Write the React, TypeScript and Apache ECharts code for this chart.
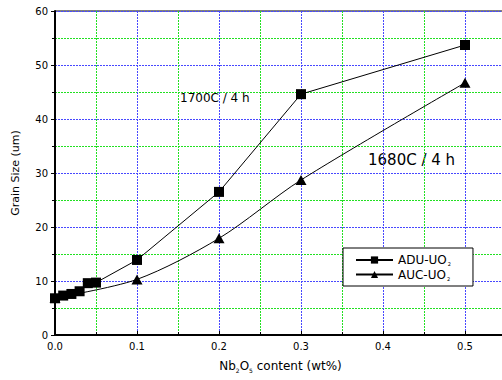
import React, { useEffect, useRef } from "react";
import * as echarts from "echarts";

const aduX = [0, 0.01, 0.02, 0.03, 0.04, 0.05, 0.1, 0.2, 0.3, 0.5];
const aduY = [6.8, 7.3, 7.6, 8.1, 9.6, 9.7, 13.9, 26.5, 44.6, 53.7];
const aucX = [0, 0.1, 0.2, 0.3, 0.5];
const aucY = [6.9, 10.3, 17.9, 28.7, 46.7];
const seriesNames = ["ADU-UO{s|2}", "AUC-UO{s|2}"];
const legendNames = ["ADU-UO2", "AUC-UO2"];

const FONT = "DejaVu Sans";
const BLUE = "#4848ff";
const GREEN = "#22e022";

export default function App() {
  const ref = useRef<HTMLDivElement>(null);
  useEffect(() => {
    if (!ref.current) return;
    const chart = echarts.init(ref.current, null, { renderer: "svg" });
    const pair = (xs: number[], ys: number[]) => xs.map((x, i) => [x, ys[i]]);
    const dotted = (c: string) => ({ show: true, lineStyle: { color: c, type: [2, 1], width: 1 } });
    chart.setOption({
      animation: false,
      backgroundColor: "#fff",
      grid: [
        {
          left: 55,
          top: 11,
          width: 451,
          height: 324,
          show: true,
          borderColor: "#000",
          borderWidth: 1,
          containLabel: false,
          outerBoundsMode: "none",
        },
      ],
      xAxis: {
        type: "value",
        min: 0,
        max: 0.55,
        interval: 0.1,
        name: "Nb{s|2}O{s|5} content (wt%)",
        nameLocation: "middle",
        nameGap: 24,
        nameTextStyle: {
          fontFamily: FONT,
          fontSize: 12,
          color: "#000",
          rich: { s: { fontSize: 6, verticalAlign: "bottom", padding: [8, 0, 0, 0], fontFamily: FONT } },
        },
        axisLine: { show: true, lineStyle: { color: "#000", width: 2 } },
        axisTick: { show: true, inside: true, length: 4, lineStyle: { color: "#000" } },
        minorTick: { show: true, splitNumber: 2, length: 3, lineStyle: { color: "#000" } },
        axisLabel: {
          fontFamily: FONT,
          fontSize: 10,
          color: "#000",
          margin: 6,
          showMaxLabel: false,
          formatter: (v: number) => v.toFixed(1),
        },
        splitLine: dotted(BLUE),
        minorSplitLine: dotted(GREEN),
      },
      yAxis: {
        type: "value",
        min: 0,
        max: 60,
        interval: 10,
        name: "Grain Size (um)",
        nameLocation: "middle",
        nameGap: 34,
        nameTextStyle: { fontFamily: FONT, fontSize: 11, color: "#000" },
        axisLine: { show: true, lineStyle: { color: "#000", width: 2 } },
        axisTick: { show: true, inside: false, length: 4, lineStyle: { color: "#000" } },
        minorTick: { show: true, splitNumber: 2, length: 3, lineStyle: { color: "#000" } },
        axisLabel: { fontFamily: FONT, fontSize: 10, color: "#000", margin: 7 },
        splitLine: dotted(BLUE),
        minorSplitLine: dotted(GREEN),
      },
      legend: {
        left: 343,
        top: 248,
        orient: "vertical",
        backgroundColor: "#fff",
        borderColor: "#000",
        borderWidth: 1,
        borderRadius: 0,
        padding: [6, 22, 5, 12],
        itemGap: 2,
        itemWidth: 37,
        itemHeight: 9,
        data: legendNames,
        formatter: (n: string) => (n === legendNames[0] ? seriesNames[0] : seriesNames[1]),
        textStyle: {
          fontFamily: FONT,
          fontSize: 12,
          color: "#000",
          rich: { s: { fontSize: 5, verticalAlign: "bottom", padding: [8, 0, 0, 1], fontFamily: FONT } },
        },
      },
      series: [
        {
          name: legendNames[0],
          type: "line",
          data: pair(aduX, aduY),
          symbol: "rect",
          symbolSize: 10,
          color: "#000",
          lineStyle: { color: "#000", width: 1 },
          itemStyle: { color: "#000" },
          z: 3,
        },
        {
          name: legendNames[1],
          type: "line",
          data: pair(aucX, aucY),
          symbol: "triangle",
          symbolSize: [11, 10],
          smooth: 0.3,
          color: "#000",
          lineStyle: { color: "#000", width: 1 },
          itemStyle: { color: "#000" },
          z: 2,
        },
      ],
      graphic: [
        {
          type: "text",
          left: 180,
          top: 92,
          style: { text: "1700C / 4 h", fontFamily: FONT, fontSize: 12, fill: "#000" },
        },
        {
          type: "text",
          left: 368,
          top: 152,
          style: { text: "1680C / 4 h", fontFamily: FONT, fontSize: 15, fill: "#000" },
        },
      ],
    });
    return () => chart.dispose();
  }, []);
  return <div ref={ref} style={{ width: 502, height: 380, position: "absolute", left: 0, top: 0 }} />;
}
